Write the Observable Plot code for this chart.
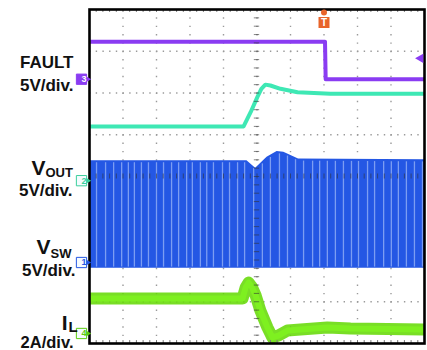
<!DOCTYPE html>
<html><head><meta charset="utf-8">
<script src="https://cdn.jsdelivr.net/npm/d3@7"></script>
<script src="https://cdn.jsdelivr.net/npm/@observablehq/plot@0.6"></script>
<style>
html,body{margin:0;padding:0;background:#fff;}
#chart{position:relative;width:427px;height:350px;overflow:hidden;}
</style></head><body><div id="chart"></div>
<script>
// ---- data (time in screen divisions, values in each channel's unit) ----
const faultT = [0, 7.03, 7.05, 10];
const faultV = [4.5, 4.5, 0, 0];              // V, 5 V/div

const voutT = [0, 4.60, 4.81, 5.01, 5.13, 5.25, 5.40, 5.70, 6.21, 7.19, 10];
const voutV = [6.5, 6.5, 8.2, 10.0, 11.0, 11.5, 11.4, 11.0, 10.6, 10.4, 10.4]; // V, 5 V/div

const vswT  = [0, 4.70, 4.96, 5.30, 5.60, 5.80, 6.24, 10];
const vswHi = [12.2, 12.2, 11.3, 12.6, 13.3, 13.2, 12.4, 12.3]; // V, top of switching band
const vswLo = [-0.7, -0.7, -0.7, -0.7, -0.7, -0.7, -0.7, -0.7]; // V, bottom of band
const vswGaps = [0.21,0.48,0.72,0.96,1.16,1.34,1.55,1.76,2.0,2.21,2.45,2.66,2.90,3.07,3.31,3.50,3.70,3.97,
  4.18,4.42,4.63,4.90,5.16,5.40,5.67,5.91,6.15,6.39,6.66,6.87,7.10,7.34,7.58,7.82,8.03,8.30,8.51,8.78,
  9.01,9.22,9.46,9.70,9.94];

const ilT = [0, 4.57, 4.66, 4.75, 4.84, 4.96, 5.10, 5.31, 5.46, 5.64, 5.91, 6.30, 7.10, 7.79, 10];
const ilA = [1.68, 1.68, 2.20, 2.44, 2.25, 1.82, 1.10, 0.29, -0.19, -0.10, 0.14, 0.19, 0.29, 0.24, 0.19]; // A, 2 A/div

const channelIds   = ["1", "2", "3", "4"];
const channelNames = ["VSW", "VOUT", "FAULT", "IL"];
const channelScale = ["5V/div.", "5V/div.", "5V/div.", "2A/div."];
const triggerTime = 7.0;     // div
const triggerLevel = 2.5;    // V on channel 3

// ---- channel setup ----
const ch = {
  vsw:   {perDiv: 5, offset: -2.06, color: "#2457e4"},
  vout:  {perDiv: 5, offset: -0.10, color: "#3ee8b4"},
  fault: {perDiv: 5, offset: 2.33,  color: "#8a3cf2"},
  il:    {perDiv: 2, offset: -3.76, color: "#6ee010"}
};
const toDiv = (c, v) => v / c.perDiv + c.offset;

const fault = faultT.map((t, i) => ({t, v: toDiv(ch.fault, faultV[i])}));
const vout  = voutT.map((t, i) => ({t, v: toDiv(ch.vout, voutV[i])}));
const vsw   = vswT.map((t, i) => ({t, hi: toDiv(ch.vsw, vswHi[i]), lo: toDiv(ch.vsw, vswLo[i])}));
const il    = ilT.map((t, i) => ({t, v: toDiv(ch.il, ilA[i])}));
const hiAt = d3.scaleLinear(vswT, vswHi.map(v => toDiv(ch.vsw, v)));
const gaps = vswGaps.map(t => ({t, hi: hiAt(t) - 0.05, lo: toDiv(ch.vsw, vswLo[0]) + 0.03}));

const markers = [
  {id: "1", v: ch.vsw.offset,   c: ch.vsw.color,   filled: false},
  {id: "2", v: ch.vout.offset,  c: "#3ccf9c",      filled: false},
  {id: "3", v: ch.fault.offset, c: ch.fault.color, filled: true},
  {id: "4", v: ch.il.offset,    c: "#5ccc10",      filled: false}
];

const minorX = d3.range(0, 10.001, 0.2);
const minorY = d3.range(-4, 4.001, 0.2);
const font = "'Liberation Sans', Arial, sans-serif";

const lbl = (text, dx, dy, size, anchor = "end") => Plot.text([text], {
  frameAnchor: "top-left", text: d => d, dx, dy, fontSize: size, fontWeight: "bold",
  lineAnchor: "middle", textAnchor: anchor, fill: "#111", fontFamily: font, ariaLabel: "lbl"
});

const chart = Plot.plot({
  width: 427, height: 350,
  marginLeft: 89, marginRight: 3, marginTop: 9, marginBottom: 7,
  x: {domain: [0, 10], axis: null},
  y: {domain: [-4, 4], axis: null},
  style: {background: "#fff", overflow: "visible", fontFamily: font},
  marks: [
    // dotted graticule
    Plot.ruleX([1,2,3,4,5,6,7,8,9], {stroke: "#9a9a9a", strokeWidth: 1.4, strokeDasharray: "1.4,6.95"}),
    Plot.ruleY([-3,-2,-1,0,1,2,3], {stroke: "#9a9a9a", strokeWidth: 1.4, strokeDasharray: "1.4,5.3"}),
    // VSW switching band
    Plot.areaY(vsw, {x: "t", y1: "lo", y2: "hi", fill: ch.vsw.color, clip: true}),
    Plot.ruleX(gaps, {x: "t", y1: "lo", y2: "hi", stroke: "#7c9df2", strokeWidth: 1.3}),
    // FAULT
    Plot.line(fault, {x: "t", y: "v", stroke: ch.fault.color, strokeWidth: 4, clip: true}),
    // VOUT
    Plot.line(vout, {x: "t", y: "v", stroke: ch.vout.color, strokeWidth: 4, clip: true}),
    // IL
    Plot.line(il, {x: "t", y: "v", stroke: "#62d800", strokeWidth: 12, strokeOpacity: 0.85, clip: true}),
    Plot.line(il, {x: "t", y: "v", stroke: "#7ef020", strokeWidth: 6, clip: true}),
    // centre crosshair ticks and edge ticks
    Plot.ruleX(minorX, {x: d => d, y1: -0.06, y2: 0.06, stroke: "#333", strokeOpacity: 0.6, strokeWidth: 1}),
    Plot.ruleY(minorY, {y: d => d, x1: 4.92, x2: 5.08, stroke: "#333", strokeOpacity: 0.6, strokeWidth: 1}),
    Plot.ruleX(minorX, {x: d => d, y1: 3.93, y2: 4, stroke: "#777", strokeWidth: 1}),
    Plot.ruleX(minorX, {x: d => d, y1: -4, y2: -3.93, stroke: "#777", strokeWidth: 1}),
    Plot.frame({stroke: "#000", strokeWidth: 2.6}),
    // trigger markers
    Plot.dot([triggerTime], {x: d => d, frameAnchor: "top", dy: 3, r: 3, fill: "#e8642a"}),
    Plot.dot([triggerTime], {x: d => d, frameAnchor: "top", dy: 13, r: 6.2, symbol: "square", fill: "#e8642a"}),
    Plot.text([triggerTime], {x: d => d, frameAnchor: "top", dy: 13, lineAnchor: "middle", text: () => "T", fill: "#fff", fontSize: 10, fontWeight: "bold"}),
    Plot.dot([toDiv(ch.fault, triggerLevel)], {y: d => d, frameAnchor: "right", dx: -4, r: 3.5, symbol: "triangle", rotate: -90, fill: ch.fault.color}),
    // channel reference markers
    Plot.dot(markers, {y: "v", frameAnchor: "left", dx: -3, r: 3, symbol: "triangle", rotate: 90, fill: "c"}),
    Plot.dot(markers, {y: "v", frameAnchor: "left", dx: -8, r: 5.8, symbol: "square", fill: d => d.filled ? d.c : "#f4fbff", stroke: "c", strokeWidth: 1}),
    Plot.text(markers, {y: "v", frameAnchor: "left", dx: -8, text: "id", fill: d => d.filled ? "#fff" : d.c, fontSize: 9, fontWeight: "bold"}),
    // channel labels
    lbl("FAULT", -16, 53.5, 17),
    lbl(channelScale[2], -16, 76.5, 17),
    lbl("V", -44, 159, 21),
    lbl("OUT", -44, 163.5, 13, "start"),
    lbl(channelScale[1], -17, 181.5, 17),
    lbl("V", -39, 237.5, 21),
    lbl("SW", -39, 244, 13, "start"),
    lbl(channelScale[0], -14, 261, 17),
    lbl("I", -22, 314, 21),
    lbl("L", -21, 318, 15, "start"),
    lbl(channelScale[3], -16, 333.5, 16.5)
  ]
});
chart.querySelectorAll('g[aria-label="lbl"] text').forEach(t => {
  t.style.transformBox = "fill-box";
  t.style.transformOrigin = "center";
  t.style.transform = "scaleY(1.2)";
});
document.getElementById("chart").appendChild(chart);
</script></body></html>
